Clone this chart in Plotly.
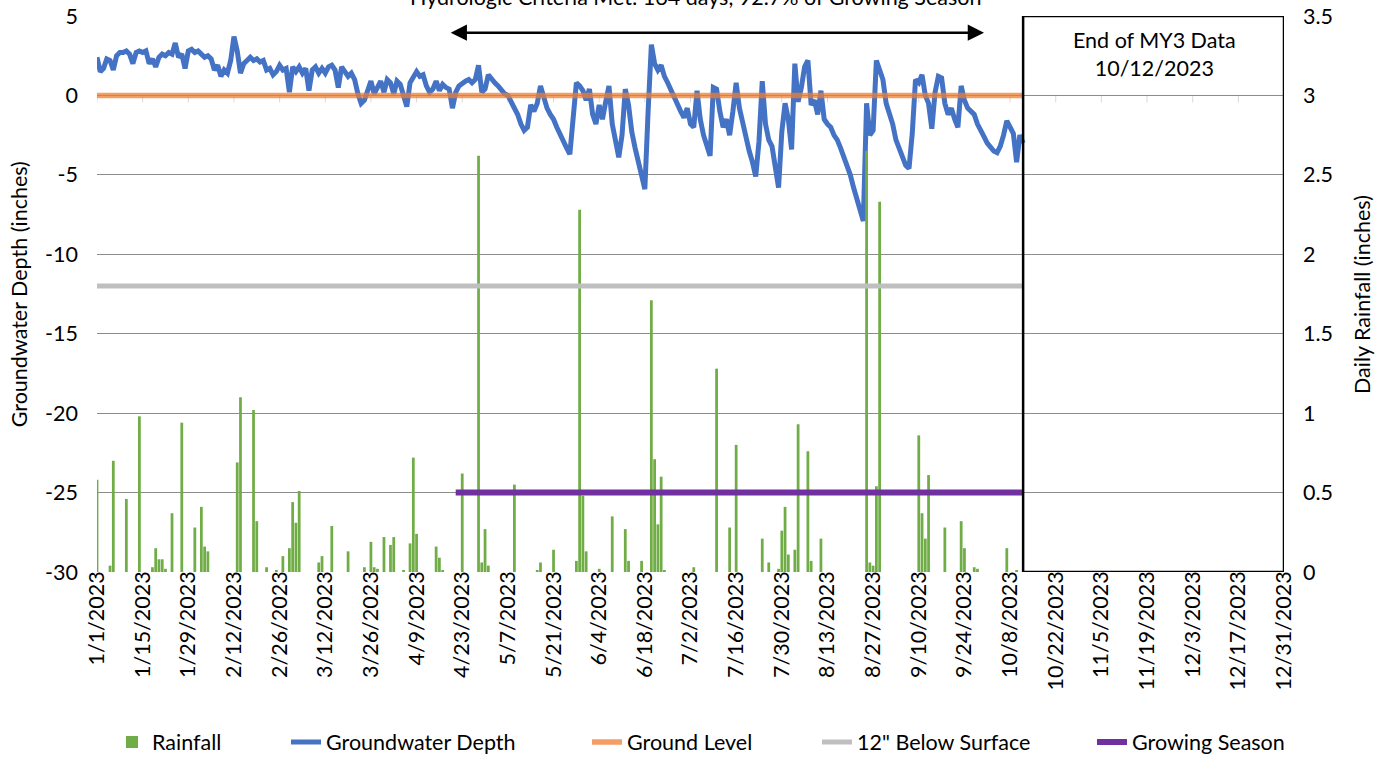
import pandas as pd
import plotly.graph_objects as go

# ---------------- data ----------------
START = "2023-01-01"
# daily groundwater depth (inches), Jan 1 .. Oct 12 2023
gw_depth = [
    2.4, 1.5, 1.7, 2.3, 2.2, 1.6, 2.5, 2.7, 2.7, 2.8,
    2.6, 2.0, 2.7, 2.8, 2.7, 2.8, 2.0, 2.3, 1.8, 2.4,
    2.6, 2.5, 2.7, 2.6, 3.3, 2.4, 2.6, 1.7, 2.8, 2.9,
    2.7, 2.8, 2.6, 2.4, 2.5, 2.3, 1.6, 1.9, 1.2, 1.6,
    1.4, 2.2, 3.7, 2.8, 1.4, 2.0, 2.2, 2.4, 2.2, 2.3,
    2.1, 2.2, 1.6, 1.7, 1.3, 1.5, 1.9, 1.6, 1.7, 0.2,
    1.8, 1.5, 1.8, 1.4, 1.7, 0.3, 1.6, 1.8, 1.4, 1.7,
    1.4, 1.8, 1.9, 1.6, 0.5, 1.8, 1.5, 1.2, 1.4, 1.0,
    0.1, -0.5, -0.3, 0.3, 0.9, 0.1, 0.5, 0.9, 0.2, 1.0,
    0.8, 0.1, 0.9, 0.7, 0.0, -0.7, 0.8, 1.1, 1.5, 1.2,
    1.3, 0.6, 0.2, 0.4, 0.9, 0.3, 0.7, 0.5, 0.4, -0.8,
    0.2, 0.6, 0.8, 0.9, 1.0, 0.8, 1.0, 1.9, 0.2, 0.4,
    1.3, 1.0, 0.8, 0.6, 0.3, 0.1, 0.0, -0.4, -0.8, -1.2,
    -1.8, -2.2, -2.0, -0.6, -1.0, -0.5, 0.6, -0.2, -0.8, -1.2,
    -1.5, -2.0, -2.5, -2.9, -3.3, -3.7, -1.0, 0.8, 0.6, 0.3,
    -0.3, 0.4, -1.2, -1.8, -0.6, -1.5, -0.4, 0.6, -1.8, -2.8,
    -3.9, -2.5, 0.4, -0.6, -2.3, -3.3, -4.2, -4.8, -5.9, -1.0,
    3.2, 2.0, 1.6, 1.9, 1.2, 0.8, 0.3, -0.2, -0.5, -1.0,
    -1.4, -0.8, -1.8, -2.0, 0.3, -1.5, -2.5, -3.2, -3.8, 0.5,
    0.4, -1.0, -2.0, -1.5, -2.5, -1.0, 0.8, -0.8, -1.8, -2.8,
    -3.5, -4.2, -5.1, -2.9, 0.9, -1.8, -2.8, -3.2, -4.8, -5.8,
    -2.3, -0.5, -1.5, -3.4, 2.0, -0.4, 0.5, 1.8, 2.2, -0.6,
    -0.3, -1.2, 0.3, -1.5, -1.8, -2.0, -2.5, -2.8, -3.3, -3.8,
    -4.3, -5.0, -5.8, -6.5, -7.2, -7.9, -0.5, -2.5, -2.2, 2.2,
    1.6, 1.0, -0.5, -1.2, -1.8, -2.8, -3.4, -4.0, -4.4, -4.6,
    -2.4, 1.0, 0.8, 1.3, 0.0, -0.5, -2.1, 0.2, 1.2, 1.1,
    -0.5, -1.2, -0.8, -1.5, -2.0, 0.6, -0.3, -0.8, -1.0, -1.2,
    -1.8, -2.3, -2.6, -3.0, -3.3, -3.5, -3.6, -3.2, -2.5, -1.6,
    -2.0, -2.4, -4.2, -2.5, -3.0,
]

# daily rainfall (inches): day offset from Jan 1 and amount
rain_day = [
    0, 4, 5, 9, 13, 17, 18, 19, 20, 21, 23, 26, 30, 32, 33, 34, 43, 44, 48, 49,
    52, 55, 57, 59, 60, 61, 62, 68, 69, 72, 77, 82, 84, 85, 86, 88, 90, 91, 94, 96,
    97, 98, 104, 105, 106, 112, 117, 118, 119, 120, 128, 135, 136, 140, 147, 148, 149, 150, 154, 158,
    162, 163, 167, 170, 171, 172, 173, 174, 183, 190, 194, 196, 204, 206, 209, 210, 211, 212, 214, 215,
    218, 219, 222, 236, 237, 238, 239, 240, 252, 253, 254, 255, 260, 265, 266, 269, 270, 279, 282,
]
rain_in = [
    0.58, 0.04, 0.70, 0.46, 0.98, 0.03, 0.15, 0.08, 0.08, 0.02, 0.37, 0.94, 0.28, 0.41, 0.16, 0.13, 0.69, 1.10, 1.02, 0.32,
    0.03, 0.01, 0.10, 0.15, 0.44, 0.31, 0.51, 0.06, 0.10, 0.29, 0.13, 0.03, 0.19, 0.03, 0.02, 0.22, 0.17, 0.22, 0.01, 0.18,
    0.72, 0.24, 0.16, 0.09, 0.01, 0.62, 2.62, 0.06, 0.27, 0.04, 0.55, 0.01, 0.06, 0.14, 0.07, 2.28, 0.48, 0.13, 0.02, 0.35,
    0.27, 0.07, 0.07, 1.71, 0.71, 0.30, 0.60, 0.01, 0.03, 1.28, 0.28, 0.80, 0.21, 0.06, 0.02, 0.26, 0.41, 0.11, 0.14, 0.93,
    0.76, 0.07, 0.21, 2.65, 0.06, 0.04, 0.54, 2.33, 0.86, 0.37, 0.21, 0.61, 0.28, 0.32, 0.15, 0.03, 0.02, 0.15, 0.01,
]

ground_level = 0
below_surface = -12
growing_level = -25
growing_start = "2023-04-21"
data_end = "2023-10-12"
arrow_start = "2023-04-19"
arrow_end = "2023-09-30"
arrow_level = 3.95

left_ticks = [-30, -25, -20, -15, -10, -5, 0, 5]
right_ticks = [0, 0.5, 1, 1.5, 2, 2.5, 3, 3.5]

title_text = "Hydrologic Criteria Met: 164 days, 92.7% of Growing Season"
box_text = "End of MY3 Data<br>10/12/2023"

# ---------------- build ----------------
gw_dates = pd.date_range(START, periods=len(gw_depth), freq="D")
rain_dates = [pd.Timestamp(START) + pd.Timedelta(days=d) for d in rain_day]
grow_dates = pd.date_range(growing_start, data_end, freq="D")
tick_dates = pd.date_range(START, "2023-12-31", freq="14D")

FONT = "Lato, Calibri, Carlito, sans-serif"
FS = 21.5
BLUE = "#4472C4"
GREEN = "#70AD47"
ORANGE = "rgba(237,125,49,0.75)"
GRAY = "#BFBFBF"
PURPLE = "#7030A0"
W, H = 1390, 759

fig = go.Figure()

fig.add_trace(go.Scatter(
    x=gw_dates, y=gw_depth, mode="lines", name="Groundwater Depth",
    line=dict(color=BLUE, width=5), yaxis="y", legend="legend2"))

fig.add_trace(go.Bar(
    x=rain_dates, y=rain_in, name="Rainfall", marker=dict(color=GREEN, line=dict(width=0)),
    width=0.85 * 86400000, yaxis="y2", legend="legend"))

fig.add_trace(go.Scatter(
    x=gw_dates, y=[ground_level] * len(gw_dates), mode="lines", name="Ground Level",
    line=dict(color=ORANGE, width=5.5), yaxis="y3", legend="legend3"))
fig.add_trace(go.Scatter(
    x=gw_dates, y=[below_surface] * len(gw_dates), mode="lines", name='12" Below Surface',
    line=dict(color=GRAY, width=5), yaxis="y3", legend="legend4"))
fig.add_trace(go.Scatter(
    x=grow_dates, y=[growing_level] * len(grow_dates), mode="lines", name="Growing Season",
    line=dict(color=PURPLE, width=6), yaxis="y3", legend="legend5"))

x_range = ["2023-01-01", "2023-12-31"]

shapes = [
    dict(type="line", xref="x", yref="y", x0=x_range[0], x1=x_range[1], y0=0, y1=0,
         line=dict(color="#D9D9D9", width=1), layer="below"),
]
for t in tick_dates:
    shapes.append(dict(type="line", xref="x", yref="y", ysizemode="pixel", yanchor=0,
                       x0=t, x1=t, y0=0, y1=-7, line=dict(color="#D9D9D9", width=1), layer="below"))
shapes.append(dict(type="rect", xref="x", yref="y", x0=data_end, x1=x_range[1], y0=-30, y1=5,
                   line=dict(color="black", width=2.5), fillcolor="rgba(0,0,0,0)", layer="above"))

annotations = [
    dict(text=title_text, xref="paper", yref="paper", x=0.5038, y=1.034, showarrow=False,
         xanchor="center", yanchor="middle", font=dict(size=FS, color="black")),
    dict(text=box_text, xref="paper", yref="paper", x=0.8905, y=0.932, showarrow=False,
         xanchor="center", yanchor="middle", font=dict(size=FS, color="black")),
    dict(text="", x=arrow_end, y=arrow_level, ax=arrow_start, ay=arrow_level,
         xref="x", yref="y", axref="x", ayref="y", showarrow=True,
         arrowhead=2, startarrowhead=2, arrowside="end+start", arrowsize=1.3,
         arrowwidth=2.5, arrowcolor="black", startarrowsize=1.3),
    dict(text="Groundwater Depth (inches)", xref="paper", yref="paper", x=-0.0655, y=0.5,
         textangle=-90, showarrow=False, xanchor="center", yanchor="middle",
         font=dict(size=FS, color="black")),
    dict(text="Daily Rainfall (inches)", xref="paper", yref="paper", x=1.0657, y=0.5,
         textangle=-90, showarrow=False, xanchor="center", yanchor="middle",
         font=dict(size=FS, color="black")),
]

# legend text start positions (px) in the reference
legend_text_x = [153, 327, 628, 858, 1133]


def legend_box(text_x):
    return dict(orientation="h", x=(text_x - 41) / W, xanchor="left", xref="container",
                y=(H - 742) / H, yanchor="middle", yref="container",
                font=dict(size=FS), bgcolor="rgba(0,0,0,0)", itemwidth=30)


fig.update_layout(
    width=W, height=H,
    margin=dict(l=97, r=106, t=16, b=187, autoexpand=False),
    paper_bgcolor="white", plot_bgcolor="white",
    font=dict(family=FONT, size=FS, color="black"),
    barmode="overlay",
    xaxis=dict(type="date", range=x_range, tickmode="array", tickvals=list(tick_dates),
               ticktext=[f"{t.month}/{t.day}/{t.year}" for t in tick_dates],
               tickangle=-90, showgrid=False, zeroline=False, showline=False,
               ticks="", ticklabelstandoff=-6, tickfont=dict(size=FS), automargin=False),
    yaxis=dict(range=[-30, 5], tickmode="array", tickvals=left_ticks,
               ticktext=[str(v) for v in left_ticks], showgrid=True,
               gridcolor="#8C8C8C", gridwidth=1, zeroline=False, showline=False,
               ticks="", ticklabelstandoff=18, tickfont=dict(size=FS), automargin=False),
    yaxis2=dict(range=[0, 3.5], tickmode="array", tickvals=right_ticks,
                ticktext=[f"{v:g}" for v in right_ticks], overlaying="y",
                side="right", showgrid=False, zeroline=False, showline=False,
                ticks="", ticklabelstandoff=18, tickfont=dict(size=FS), automargin=False),
    yaxis3=dict(range=[-30, 5], overlaying="y", visible=False, showgrid=False, zeroline=False),
    shapes=shapes,
    annotations=annotations,
    legend=legend_box(legend_text_x[0]),
    legend2=legend_box(legend_text_x[1]),
    legend3=legend_box(legend_text_x[2]),
    legend4=legend_box(legend_text_x[3]),
    legend5=legend_box(legend_text_x[4]),
    showlegend=True,
)

fig.write_html("out.html", config={"displayModeBar": False},
               post_script="document.body.style.margin='0';")
